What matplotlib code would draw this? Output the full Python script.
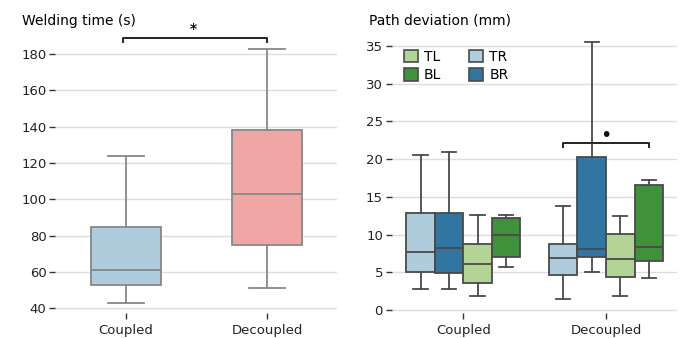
import numpy as np
import matplotlib.pyplot as plt
from matplotlib.patches import Patch

# welding time (s), box stats
weld_groups = ['Coupled', 'Decoupled']
weld_whislo = [43, 51]
weld_q1 = [53, 75]
weld_med = [61, 103]
weld_q3 = [85, 138]
weld_whishi = [124, 183]
weld_colors = ['#aeccdb', '#efa6a5']

# path deviation (mm), per corner, [Coupled, Decoupled]
corners = ['TR', 'BR', 'TL', 'BL']
path_whislo = {'TR': [2.8, 1.4], 'BR': [2.8, 5.0], 'TL': [1.9, 1.9], 'BL': [5.7, 4.2]}
path_q1 = {'TR': [5.0, 4.6], 'BR': [4.9, 7.0], 'TL': [3.6, 4.4], 'BL': [7.0, 6.45]}
path_med = {'TR': [7.7, 6.9], 'BR': [8.2, 8.05], 'TL': [6.15, 6.7], 'BL': [10.0, 8.4]}
path_q3 = {'TR': [12.8, 8.8], 'BR': [12.8, 20.3], 'TL': [8.75, 10.1], 'BL': [12.2, 16.6]}
path_whishi = {'TR': [20.6, 13.8], 'BR': [20.9, 35.5], 'TL': [12.6, 12.5], 'BL': [12.55, 17.3]}
corner_colors = {'TL': '#b3d495', 'TR': '#aeccdb', 'BL': '#40913b', 'BR': '#3275a1'}
legend_order = ['TL', 'BL', 'TR', 'BR']

plt.rcParams['font.family'] = 'DejaVu Sans'
plt.rcParams['font.size'] = 9.5

fig = plt.figure(figsize=(6.85, 3.38), dpi=100)
ax1 = fig.add_axes([0.081, 0.074, 0.4117, 0.843])
ax2 = fig.add_axes([0.5723, 0.074, 0.4165, 0.843])


def style(ax):
    for s in ax.spines.values():
        s.set_visible(False)
    ax.set_axisbelow(True)
    ax.grid(axis='y', color='#dddddd', linewidth=1)
    ax.tick_params(axis='both', length=4, width=1, color='#333333', labelcolor='#222222',
                   labelsize=9.5, pad=2.5)
    ax.tick_params(axis='x', pad=4)
    ax.set_xlim(-0.5, 1.5)


def draw(ax, stats, pos, width, colors, lc):
    ax.bxp(stats, positions=pos, widths=width, showfliers=False, patch_artist=True,
           boxprops=dict(edgecolor=lc, linewidth=1.3),
           whiskerprops=dict(color=lc, linewidth=1.3),
           capprops=dict(color=lc, linewidth=1.3),
           medianprops=dict(color=lc, linewidth=1.3),
           manage_ticks=False)
    for patch, c in zip(ax.patches[-len(stats):], colors):
        patch.set_facecolor(c)


# left panel
style(ax1)
stats = []
for i in range(len(weld_groups)):
    stats.append(dict(whislo=weld_whislo[i], q1=weld_q1[i], med=weld_med[i],
                      q3=weld_q3[i], whishi=weld_whishi[i]))
draw(ax1, stats, list(range(len(weld_groups))), 0.5, weld_colors, '#878787')
ax1.set_ylim(37.4, 194.3)
ax1.set_yticks(np.arange(40, 181, 20))
ax1.set_xticks(range(len(weld_groups)))
ax1.set_xticklabels(weld_groups)
ax1.plot([-0.02, -0.02, 1, 1], [186.5, 189, 189, 186.5], color='#222222', lw=1.4, clip_on=False)
ax1.text(0.48, 193.9, '*', ha='center', va='center', fontsize=10, fontweight='bold',
         color='#111111', clip_on=False)
fig.text(22.5 / 685, 1 - 25 / 338, 'Welding time (s)', fontsize=10, va='baseline', ha='left')

# right panel
style(ax2)
offsets = [-0.3, -0.1, 0.1, 0.3]
for k, c in enumerate(corners):
    st = []
    for i in range(2):
        st.append(dict(whislo=path_whislo[c][i], q1=path_q1[c][i], med=path_med[c][i],
                       q3=path_q3[c][i], whishi=path_whishi[c][i]))
    draw(ax2, st, [i + offsets[k] for i in range(2)], 0.2, [corner_colors[c]] * 2, '#4a4a4a')
ax2.set_ylim(-0.4, 37.39)
ax2.set_yticks(np.arange(0, 36, 5))
ax2.set_xticks(range(len(weld_groups)))
ax2.set_xticklabels(weld_groups)
ax2.plot([0.7, 0.7, 1.3, 1.3], [21.6, 22.2, 22.2, 21.6], color='#222222', lw=1.4)
ax2.text(1.0, 23.15, '\u2022', ha='center', va='center', fontsize=14, color='#111111')
fig.text(369 / 685, 1 - 25 / 338, 'Path deviation (mm)', fontsize=10, va='baseline', ha='left')

handles = [Patch(facecolor=corner_colors[c], edgecolor='#4a4a4a', linewidth=1.2, label=c)
           for c in legend_order]
ax2.legend(handles=handles, ncol=2, frameon=False, loc='upper left',
           bbox_to_anchor=(0.007, 0.957), handlelength=1.0, handleheight=1.0,
           handletextpad=0.45, columnspacing=2.0, labelspacing=0.3, borderaxespad=0.3,
           fontsize=10)

fig.savefig('out.png', dpi=100)
